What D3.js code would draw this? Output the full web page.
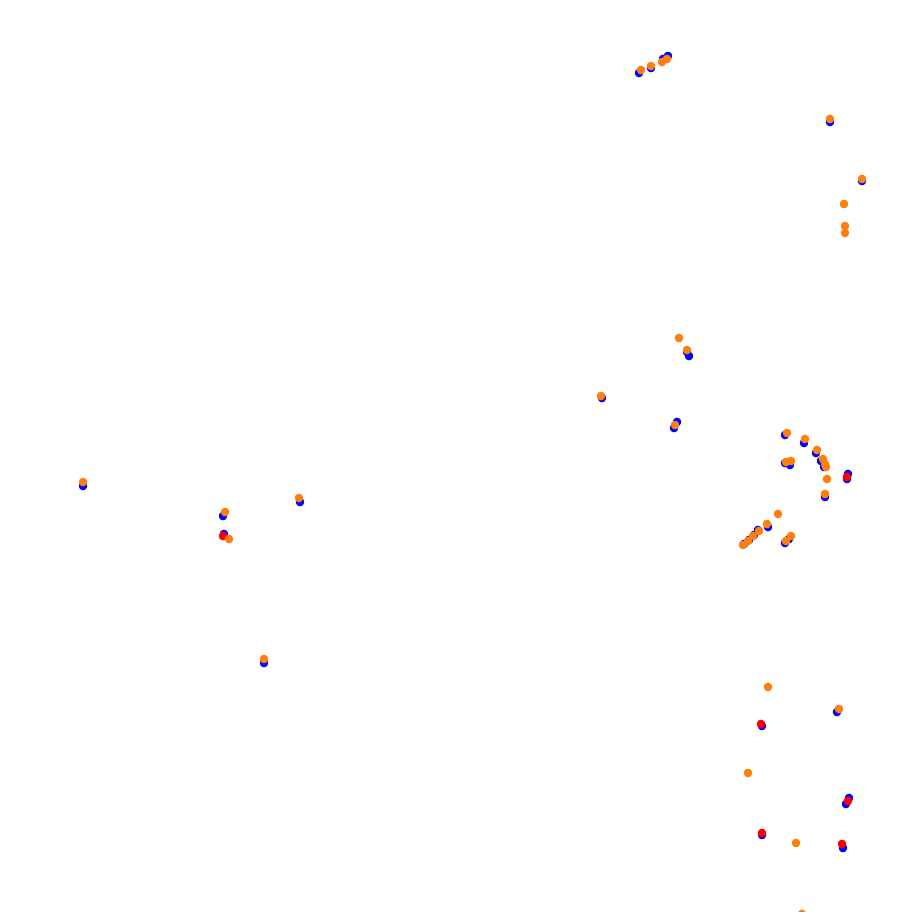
<!DOCTYPE html>
<html><head><meta charset="utf-8">
<script src="https://cdn.jsdelivr.net/npm/d3@7"></script>
<style>html,body{margin:0;padding:0;background:#fff;overflow:hidden}</style>
</head><body>
<script>
const blueX = [639,651,663,668,830,862,687,689,602,677,674,785,804,816,821,824,785,790,848,847,825,768,758,754,749,744,789,785,83,223,224,300,264,837,762,849,846,762,843];
const blueY = [73,68,59,56,122,181,352,356,398,422,428,435,443,453,461,467,463,465,474,479,497,527,530,535,540,544,539,543,486,516,534,502,663,712,726,798,804,835,848];
const redX = [847,223,761,848,762,842];
const redY = [477,536,724,801,833,844];
const orangeX = [641,651,662,667,830,862,844,845,845,679,687,601,675,787,805,817,823,825,826,786,791,827,825,778,767,759,753,748,743,791,786,83,225,229,299,264,768,839,748,796,802];
const orangeY = [70,66,62,59,119,179,204,226,233,338,350,396,425,433,439,450,459,464,467,462,461,479,494,514,524,531,536,541,545,536,541,482,512,539,498,659,687,709,773,843,914];

const W = 898, H = 912;
const x = d3.scaleLinear().domain([0, 898]).range([0, W]);
const y = d3.scaleLinear().domain([0, 912]).range([0, H]);
const svg = d3.select("body").append("svg").attr("width", W).attr("height", H);

const series = [
  {xs: blueX, ys: blueY, color: "#0000ff"},
  {xs: redX, ys: redY, color: "#ff0000"},
  {xs: orangeX, ys: orangeY, color: "#ff7f0e"}
];
series.forEach(s => {
  const pts = s.xs.map((v, i) => [v, s.ys[i]]);
  svg.append("g").selectAll("circle").data(pts).join("circle")
    .attr("cx", d => x(d[0])).attr("cy", d => y(d[1]))
    .attr("r", 4.2).attr("fill", s.color);
});
</script>
</body></html>
